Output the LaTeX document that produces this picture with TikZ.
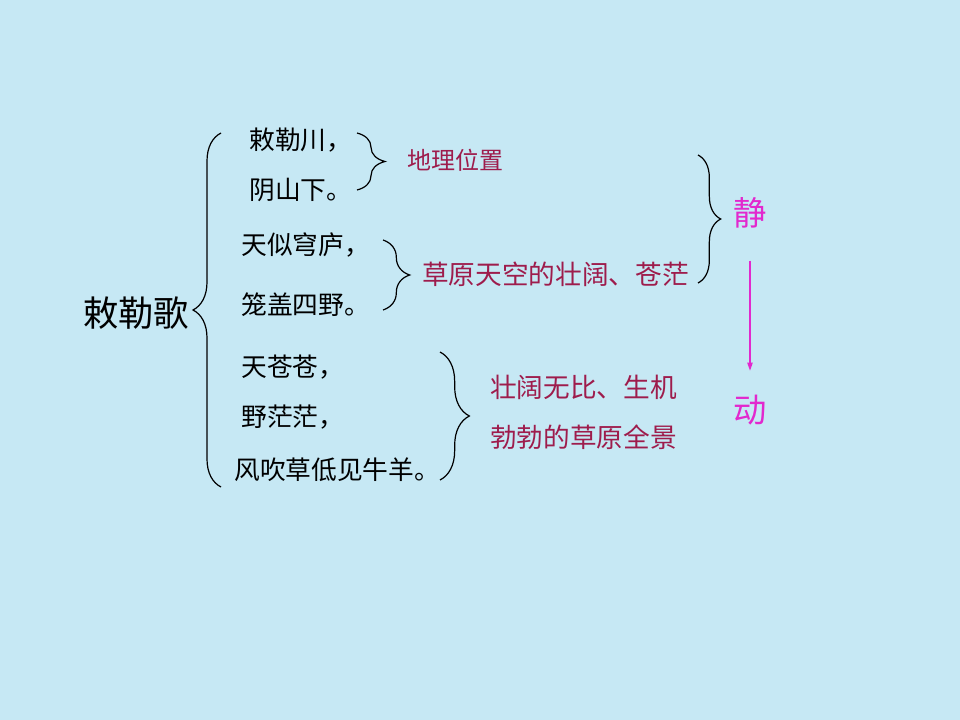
\documentclass[tikz,border=0pt]{standalone}
\usepackage{fontspec}
\setmainfont{Noto Sans CJK SC}
\usetikzlibrary{decorations.pathreplacing,arrows.meta}
\definecolor{bgblue}{RGB}{198,232,244}
\definecolor{maroon}{RGB}{158,28,76}
\definecolor{mag}{RGB}{226,40,206}
\tikzset{
  poem/.style={anchor=west,inner sep=0pt,font=\fontsize{19.3}{19.3}\selectfont,text=black},
  note/.style={anchor=west,inner sep=0pt,font=\fontsize{20}{20}\selectfont,text=maroon},
  smallnote/.style={anchor=west,inner sep=0pt,font=\fontsize{18}{18}\selectfont,text=maroon},
  big/.style={anchor=west,inner sep=0pt,font=\fontsize{26.5}{26.5}\selectfont,text=black},
  motion/.style={anchor=center,inner sep=0pt,font=\fontsize{25}{25}\selectfont,text=mag},
  bracebar/.style={decorate,draw=black,line width=0.9pt},
}
\begin{document}
\begin{tikzpicture}[x=0.75pt,y=-0.75pt]
\fill[bgblue] (0,0) rectangle (960,720);
\useasboundingbox (0,0) rectangle (960,720);

\node[big] (title) at (83,313) {敕勒歌};

\node[poem] (l1) at (249,140) {敕勒川，};
\node[poem] (l2) at (249,190) {阴山下。};
\node[poem] (l3) at (241,245) {天似穹庐，};
\node[poem] (l4) at (241,305) {笼盖四野。};
\node[poem] (l5) at (241,367) {天苍苍，};
\node[poem] (l6) at (241,417) {野茫茫，};
\node[poem] (l7) at (234,470) {风吹草低见牛羊。};

\node[smallnote] (n1) at (407,160) {地理位置};
\node[note] (n2) at (422,274) {草原天空的壮阔、苍茫};
\node[note] (n3) at (490,387) {壮阔无比、生机};
\node[note] (n4) at (490,437) {勃勃的草原全景};

\node[motion] (still) at (750,213) {静};
\node[motion] (move) at (750,410) {动};

% braces
\coordinate (b0t) at (221,133); \coordinate (b0b) at (221,487);
\draw[bracebar,decoration={brace,amplitude=21pt,aspect=0.5}] (b0b) -- (b0t);

\coordinate (b1t) at (357,133); \coordinate (b1b) at (357,190);
\draw[bracebar,decoration={brace,amplitude=21pt}] (b1t) -- (b1b);

\coordinate (b2t) at (383,240); \coordinate (b2b) at (383,310);
\draw[bracebar,decoration={brace,amplitude=20pt}] (b2t) -- (b2b);

\coordinate (b3t) at (440,352); \coordinate (b3b) at (440,480);
\draw[bracebar,decoration={brace,amplitude=22pt}] (b3t) -- (b3b);

\coordinate (b4t) at (698,155); \coordinate (b4b) at (698,283);
\draw[bracebar,decoration={brace,amplitude=17pt}] (b4t) -- (b4b);

% arrow
\draw[mag,line width=0.9pt,-{Triangle[length=6pt,width=4pt]},shorten <=24pt,shorten >=18pt] (still.south) -- (move.north);
\end{tikzpicture}
\end{document}
